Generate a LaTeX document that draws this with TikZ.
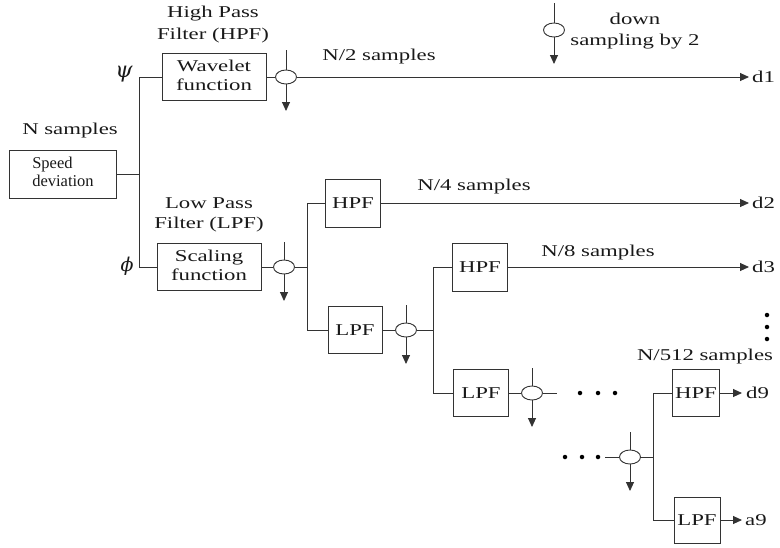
\documentclass[tikz,border=0pt]{standalone}
\usepackage{fontspec}
\setmainfont{Liberation Serif}
\newfontfamily\grk{DejaVu Serif}
\usepackage{graphicx}
\usetikzlibrary{shapes.geometric,arrows.meta}
% horizontally widened text, as in the original drawing
\newcommand{\wtxt}[1]{\scalebox{1.38}[1]{#1}}
\newcommand{\wtwo}[2]{\scalebox{1.38}[1]{\begin{tabular}{@{}c@{}}#1\\#2\end{tabular}}}
\begin{document}
\begin{tikzpicture}[x=1pt,y=-1pt,
  every node/.style={font=\fontsize{16.5}{19}\selectfont, text=black!90},
  wire/.style={line width=0.9pt, draw=black!80},
  outarrow/.style={wire, -{Triangle[length=9pt,width=8pt]}},
  box/.style={draw=black!80, line width=0.9pt, inner sep=0pt},
  ds/.style={draw=black!80, line width=0.9pt, ellipse, minimum width=21pt, minimum height=14pt, inner sep=0pt},
  dot/.style={fill=black, circle, inner sep=0pt, minimum size=4.5pt},
  lbl/.style={inner sep=0pt}]
\useasboundingbox (0,0) rectangle (780,547);

% input block
\node[box, minimum width=107pt, minimum height=48pt, font=\fontsize{16.5}{18}\selectfont]
  (speed) at (63,174) {\begin{tabular}{@{}l@{}}Speed\\deviation\end{tabular}};
\node[lbl] (nsam) at (70,131) {\wtxt{N samples}};
\coordinate (jpsi) at (139,77);
\coordinate (jphi) at (139,267);
\node[lbl, font=\grk\itshape\fontsize{22}{24}\selectfont] (psi) at (124,74) {ψ};
\node[lbl, font=\grk\itshape\fontsize{19}{22}\selectfont] (phi) at (127,266) {ϕ};

% first level filters
\node[box, minimum width=104pt, minimum height=47pt] (wav) at (214,77) {\wtwo{Wavelet}{function}};
\node[box, minimum width=104pt, minimum height=47pt] (scal) at (209,267) {\wtwo{Scaling}{function}};
\node[lbl] (hp1) at (213,14) {\wtxt{High Pass}};
\node[lbl] (hp2) at (213,36) {\wtxt{Filter (HPF)}};
\node[lbl] (lp1) at (209,203) {\wtxt{Low Pass}};
\node[lbl] (lp2) at (209,225) {\wtxt{Filter (LPF)}};

% later levels
\node[box, minimum width=55pt, minimum height=48pt] (hpf1) at (353,203) {\wtxt{HPF}};
\node[box, minimum width=54pt, minimum height=47pt] (lpf1) at (355,330) {\wtxt{LPF}};
\node[box, minimum width=55pt, minimum height=48pt] (hpf2) at (480,267) {\wtxt{HPF}};
\node[box, minimum width=55pt, minimum height=47pt] (lpf2) at (481,393) {\wtxt{LPF}};
\node[box, minimum width=47pt, minimum height=47pt] (hpf3) at (696,393) {\wtxt{HPF}};
\node[box, minimum width=46pt, minimum height=46pt] (lpf3) at (697,520) {\wtxt{LPF}};

% down samplers
\node[ds] (ds1) at (286,77) {};
\coordinate (ds1t) at (286,50); \coordinate (ds1b) at (286,111);
\node[ds] (ds2) at (284,267) {};
\coordinate (ds2t) at (284,242); \coordinate (ds2b) at (284,301);
\node[ds] (ds3) at (406,330) {};
\coordinate (ds3t) at (406,305); \coordinate (ds3b) at (406,364);
\node[ds] (ds4) at (532,393) {};
\coordinate (ds4t) at (532,368); \coordinate (ds4b) at (532,427);
\node[ds] (ds5) at (630,457) {};
\coordinate (ds5t) at (630,432); \coordinate (ds5b) at (630,491);
\node[ds] (dsL) at (554,30) {};
\coordinate (dsLt) at (554,3); \coordinate (dsLb) at (554,64);
\foreach \d in {ds1,ds2,ds3,ds4,ds5,dsL}{
  \draw[wire] (\d t) -- (\d.north);
  \draw[outarrow] (\d.south) -- (\d b);
}
\node[lbl] (leg1) at (635,19) {\wtxt{down}};
\node[lbl] (leg2) at (635,42) {\wtxt{sampling by 2}};

% branch points
\coordinate (b1t) at (307,203); \coordinate (b1m) at (307,267); \coordinate (b1b) at (307,330);
\coordinate (b2t) at (433,267); \coordinate (b2m) at (433,330); \coordinate (b2b) at (433,393);
\coordinate (b3t) at (653,393); \coordinate (b3m) at (653,457); \coordinate (b3b) at (653,520);

% output ends
\coordinate (e1) at (749,77);
\coordinate (e2) at (749,203);
\coordinate (e3) at (749,267);
\coordinate (e9) at (742,393);
\coordinate (ea) at (742,520);
\coordinate (c4) at (557,393);
\coordinate (c5) at (605,457);

% connections
\draw[wire] (speed.east) -- (speed.east -| jpsi);
\draw[wire] (jpsi) -- (jphi);
\draw[wire] (jpsi) -- (wav.west);
\draw[wire] (wav.east) -- (ds1.west);
\draw[outarrow] (ds1.east) -- (e1);
\draw[wire] (jphi) -- (scal.west);
\draw[wire] (scal.east) -- (ds2.west);
\draw[wire] (ds2.east) -- (b1m);
\draw[wire] (b1t) -- (b1b);
\draw[wire] (b1t) -- (hpf1.west);
\draw[wire] (b1b) -- (lpf1.west);
\draw[outarrow] (hpf1.east) -- (e2);
\draw[wire] (lpf1.east) -- (ds3.west);
\draw[wire] (ds3.east) -- (b2m);
\draw[wire] (b2t) -- (b2b);
\draw[wire] (b2t) -- (hpf2.west);
\draw[wire] (b2b) -- (lpf2.west);
\draw[outarrow] (hpf2.east) -- (e3);
\draw[wire] (lpf2.east) -- (ds4.west);
\draw[wire] (ds4.east) -- (c4);
\draw[wire] (c5) -- (ds5.west);
\draw[wire] (ds5.east) -- (b3m);
\draw[wire] (b3t) -- (b3b);
\draw[wire] (b3t) -- (hpf3.west);
\draw[wire] (b3b) -- (lpf3.west);
\draw[outarrow] (hpf3.east) -- (e9);
\draw[outarrow] (lpf3.east) -- (ea);

% sample counts
\node[lbl] (n2) at (379,57) {\wtxt{N/2 samples}};
\node[lbl] (n4) at (474,187) {\wtxt{N/4 samples}};
\node[lbl] (n8) at (598,253) {\wtxt{N/8 samples}};
\node[lbl] (n512) at (705,357) {\wtxt{N/512 samples}};

% outputs
\node[lbl, anchor=west] (d1) at (752,77) {\wtxt{d1}};
\node[lbl, anchor=west] (d2) at (752,203) {\wtxt{d2}};
\node[lbl, anchor=west] (d3) at (752,267) {\wtxt{d3}};
\node[lbl, anchor=west] (d9) at (746,393) {\wtxt{d9}};
\node[lbl, anchor=west] (a9) at (745,520) {\wtxt{a9}};

% ellipsis dots
\foreach \x [count=\i] in {580,598,615} \node[dot] (h\i) at (\x,393) {};
\foreach \x [count=\i] in {565,582,598} \node[dot] (g\i) at (\x,457) {};
\foreach \y [count=\i] in {315,327,339} \node[dot] (v\i) at (767,\y) {};
\end{tikzpicture}
\end{document}
